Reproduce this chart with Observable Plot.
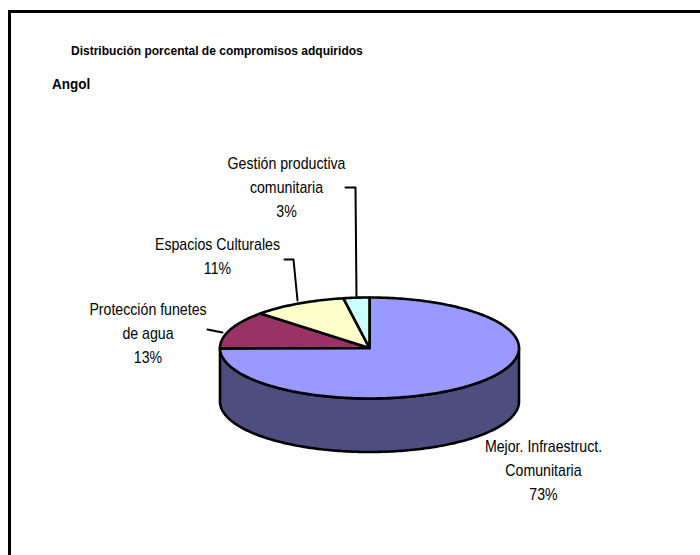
<!DOCTYPE html>
<html><head><meta charset="utf-8">
<script src="https://cdn.jsdelivr.net/npm/d3@7"></script>
<script src="https://cdn.jsdelivr.net/npm/@observablehq/plot@0.6"></script>
<style>
html,body{margin:0;padding:0;background:#fff}
#page{position:relative;width:700px;height:555px;overflow:hidden}
#frame{position:absolute;left:8px;top:10px;width:700px;height:560px;border:3px solid #000;box-sizing:border-box}
.t{position:absolute;font-family:"Liberation Sans",Arial,sans-serif;font-weight:bold;color:#000;white-space:pre;transform-origin:left center}
#chart{position:absolute;left:0;top:0}
</style></head><body>
<div id="page">
<div id="frame"></div>
<div class="t" id="title" style="left:71px;top:43px;font-size:13.5px;transform:scaleX(.89)">Distribución porcental de compromisos adquiridos</div>
<div class="t" id="sub" style="left:52px;top:75px;font-size:15px;transform:scaleX(.9)">Angol</div>
<div id="chart"></div>
</div>
<script>
const categories = ["Mejor. Infraestruct.\nComunitaria","Protección funetes\nde agua","Espacios Culturales","Gestión productiva\ncomunitaria"];
const shares = [73,13,11,3];
const topColors = ["#9999ff","#993366","#ffffcc","#ccffff"];
const wallColor = "#4d4d80";

// layout (pixels -> pie units)
const cx=369, cy=347.5, rx=149.5, ry=50.5, depth=53.5/ry;
const squash=0.93; // Excel 3-D foreshortening of the back of the pie
const rad=d=>d*Math.PI/180;
const pt=(deg,drop=0)=>({x:Math.sin(rad(deg)),y:Math.cos(rad(deg))-drop});

let run=0;
const ends={};
for(let i=shares.length-1;i>=1;i--){const a=run*3.6*squash;run+=shares[i];ends[i]=[360-run*3.6*squash,360-a];}
ends[0]=[0,360-run*3.6*squash];

const arc=(a,b,drop=0)=>{const n=Math.max(2,Math.ceil(Math.abs(b-a)));return d3.range(n+1).map(k=>pt(a+(b-a)*k/n,drop));};
const slicePts=i=>{const [a,b]=ends[i];return [{x:0,y:0},...arc(a,b),{x:0,y:0}];};
const wallPts=[...arc(90,270),...arc(270,90,depth),pt(90)];

const lx=p=>(p-cx)/rx, ly=p=>(cy-p)/ry;
const labels=[
 {text:categories[0]+"\n"+shares[0]+"%",x:lx(543),y:ly(468)},
 {text:categories[1]+"\n"+shares[1]+"%",x:lx(147.5),y:ly(330.5)},
 {text:categories[2]+"\n"+shares[2]+"%",x:lx(217),y:ly(254)},
 {text:categories[3]+"\n"+shares[3]+"%",x:lx(286),y:ly(184.5)}
];
const leaders=[
 [[207,329],[222,332]],
 [[284,259],[293,259],[297,300]],
 [[345,187],[355,187],[356,297]]
].map(l=>l.map(([a,b])=>({x:lx(a),y:ly(b)})));

const marks=[
 Plot.line(wallPts,{x:"x",y:"y",fill:wallColor,stroke:"#000",strokeWidth:2.6,curve:"linear"}),
 ...[0,1,2,3].map(i=>Plot.line(slicePts(i),{x:"x",y:"y",fill:topColors[i],stroke:"#000",strokeWidth:2.6,curve:"linear"})),
 ...leaders.map(l=>Plot.line(l,{x:"x",y:"y",stroke:"#000",strokeWidth:2,curve:"linear"})),
 Plot.text(labels,{x:"x",y:"y",text:"text",fontSize:16,lineHeight:1.5,fill:"#000",textAnchor:"middle"})
];
const svg=Plot.plot({
 width:700,height:555,margin:0,
 style:{background:"transparent",fontFamily:'"Liberation Sans",Arial,sans-serif'},
 x:{axis:null,domain:[lx(0),lx(700)],range:[0,700]},
 y:{axis:null,domain:[ly(555),ly(0)],range:[555,0]},
 marks
});
// Condense the label glyphs horizontally like the reference's narrow type
svg.querySelectorAll("text").forEach(t=>{
 t.setAttribute("transform",(t.getAttribute("transform")||"")+" scale(0.885,1)");
});
document.getElementById("chart").appendChild(svg);
</script>
</body></html>
